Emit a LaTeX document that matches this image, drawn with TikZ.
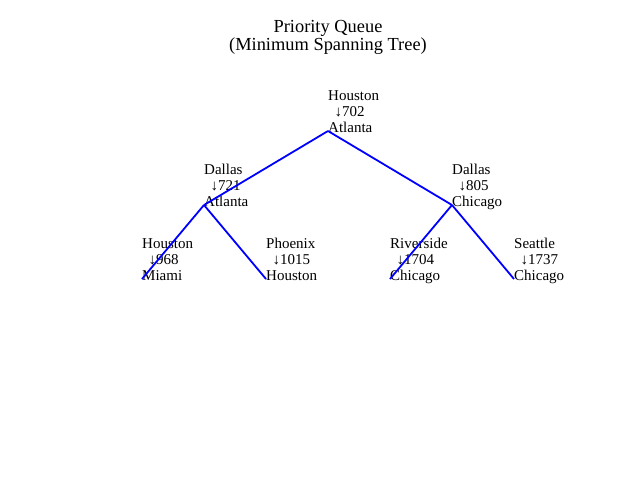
\documentclass[tikz,border=0pt]{standalone}
\usepackage{fontspec}
\setmainfont{Liberation Serif}
\usetikzlibrary{positioning}

\begin{document}
\begin{tikzpicture}[x=1pt, y=-1pt,
		every node/.style={inner sep=0pt, font=\fontsize{15}{16.3}\selectfont},
		entry/.style={anchor=south west, align=left, text depth=0pt, yshift=-2pt},
		heapedge/.style={draw=blue, line width=1.8pt}]
	\useasboundingbox (0,0) rectangle (640,480);
	\node (title) [anchor=south, align=center, text depth=0pt,
		font=\fontsize{18.4}{18.3}\selectfont] at (328,50.5) {
		Priority Queue\\
		(Minimum Spanning Tree)
	};
	% heap positions
	\coordinate (n0) at (328,131);
	\coordinate (n1) at (204,205);
	\coordinate (n2) at (452,205);
	\coordinate (n3) at (142,279);
	\coordinate (n4) at (266,279);
	\coordinate (n5) at (390,279);
	\coordinate (n6) at (514,279);
	\node (e0) [entry] at (n0) {Houston\\\hspace{6.5pt}↓702\\Atlanta};
	\node (e1) [entry] at (n1) {Dallas\\\hspace{6.5pt}↓721\\Atlanta};
	\node (e2) [entry] at (n2) {Dallas\\\hspace{6.5pt}↓805\\Chicago};
	\node (e3) [entry] at (n3) {Houston\\\hspace{6.5pt}↓968\\Miami};
	\node (e4) [entry] at (n4) {Phoenix\\\hspace{6.5pt}↓1015\\Houston};
	\node (e5) [entry] at (n5) {Riverside\\\hspace{6.5pt}↓1704\\Chicago};
	\node (e6) [entry] at (n6) {Seattle\\\hspace{6.5pt}↓1737\\Chicago};
	\draw [heapedge] (n0) -- (n1);
	\draw [heapedge] (n0) -- (n2);
	\draw [heapedge] (n1) -- (n3);
	\draw [heapedge] (n1) -- (n4);
	\draw [heapedge] (n2) -- (n5);
	\draw [heapedge] (n2) -- (n6);
\end{tikzpicture}
\end{document}
